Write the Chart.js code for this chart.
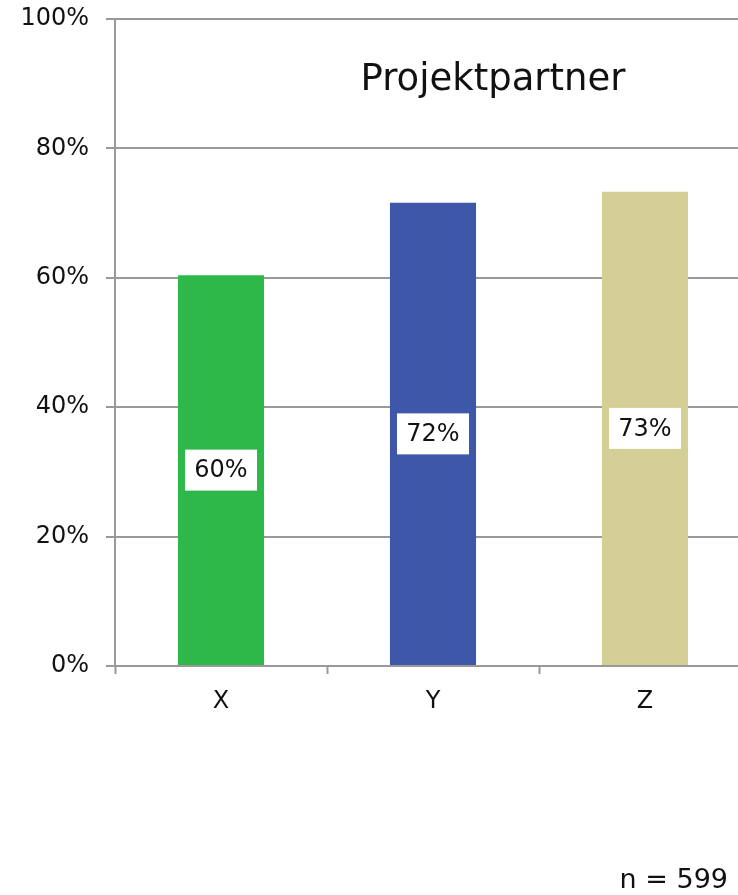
<!DOCTYPE html>
<html>
<head>
<meta charset="utf-8">
<script src="https://cdn.jsdelivr.net/npm/chart.js@4/dist/chart.umd.min.js"></script>
<style>
  html, body { margin: 0; padding: 0; background: #fff; overflow: hidden; }
  #wrap { position: relative; width: 760px; height: 895px; }
</style>
</head>
<body>
<div id="wrap"><canvas id="c"></canvas></div>
<script>
// Share of respondents per group
const categories = ['X', 'Y', 'Z'];
const shares = [60.4, 71.6, 73.3];
const barColors = ['#2eb84a', '#3e57a9', '#d4ce97'];
const yTicks = [0, 20, 40, 60, 80, 100];
const chartTitle = 'Projektpartner';
const sampleNote = 'n = 599';

const FONT = '"DejaVu Sans", sans-serif';

// White boxed percentage in the middle of each bar
const valueBoxes = {
  id: 'valueBoxes',
  afterDatasetsDraw(chart) {
    const ctx = chart.ctx;
    const meta = chart.getDatasetMeta(0);
    ctx.save();
    ctx.font = '24px ' + FONT;
    ctx.textAlign = 'center';
    ctx.textBaseline = 'middle';
    meta.data.forEach((bar, i) => {
      const cy = (bar.y + bar.base) / 2;
      const w = 72, h = 41;
      ctx.fillStyle = '#ffffff';
      ctx.fillRect(bar.x - w / 2, cy - h / 2, w, h);
      ctx.fillStyle = '#111111';
      ctx.fillText(Math.round(shares[i]) + '%', bar.x, cy + 1);
    });
    ctx.restore();
  }
};

// Heading inside the plot and sample size in the bottom corner
const captions = {
  id: 'captions',
  afterDraw(chart) {
    const ctx = chart.ctx;
    ctx.save();
    ctx.fillStyle = '#111111';
    ctx.textBaseline = 'middle';
    ctx.textAlign = 'center';
    ctx.font = '37px ' + FONT;
    ctx.fillText(chartTitle, 493, 80);
    ctx.textAlign = 'right';
    ctx.font = '27px ' + FONT;
    ctx.fillText(sampleNote, 728, 881);
    ctx.restore();
  }
};

new Chart(document.getElementById('c'), {
  type: 'bar',
  data: {
    labels: categories,
    datasets: [{
      data: shares,
      backgroundColor: barColors,
      borderWidth: 0,
      categoryPercentage: 1,
      barPercentage: 0.406
    }]
  },
  options: {
    responsive: true,
    maintainAspectRatio: false,
    animation: false,
    devicePixelRatio: 1,
    layout: { padding: { top: 19, right: 9, bottom: 0, left: 0 } },
    plugins: {
      legend: { display: false },
      tooltip: { enabled: false }
    },
    scales: {
      x: {
        offset: true,
        grid: {
          offset: true,
          drawOnChartArea: false,
          drawTicks: true,
          tickLength: 8,
          tickWidth: 2,
          color: '#999999'
        },
        border: { color: '#999999', width: 2 },
        ticks: {
          color: '#111111',
          font: { family: FONT, size: 24 },
          padding: 13
        },
        afterFit(scale) {
          scale.height = 229;
          scale.paddingLeft = 0;
          scale.paddingRight = 0;
        }
      },
      y: {
        min: 0,
        max: 100,
        afterBuildTicks(scale) { scale.ticks = yTicks.map(v => ({ value: v })); },
        grid: {
          color: '#999999',
          lineWidth: 2,
          drawTicks: true,
          tickLength: 9
        },
        border: { color: '#999999', width: 2 },
        ticks: {
          color: '#111111',
          font: { family: FONT, size: 24 },
          padding: 17,
          callback: v => v + '%'
        },
        afterFit(scale) {
          scale.width = 115;
          scale.paddingTop = 0;
          scale.paddingBottom = 0;
        }
      }
    }
  },
  plugins: [valueBoxes, captions]
});
</script>
</body>
</html>
